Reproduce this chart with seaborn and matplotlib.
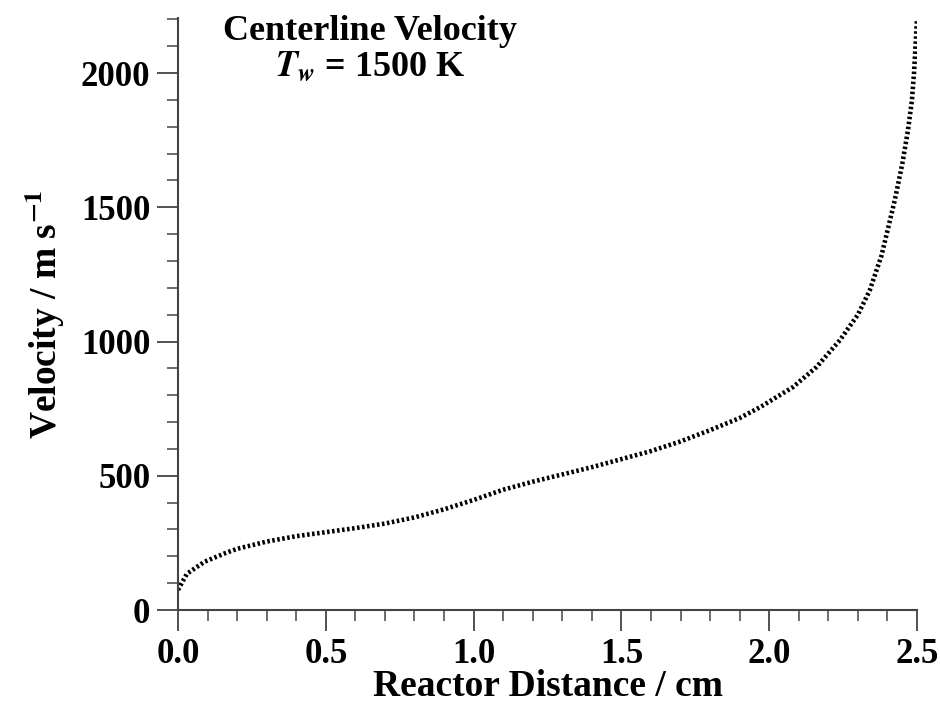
import numpy as np
import pandas as pd
import matplotlib
matplotlib.use("Agg")
import matplotlib.pyplot as plt
from matplotlib.ticker import MultipleLocator
import seaborn as sns

distance_cm = [0.0, 0.03, 0.09, 0.16, 0.2, 0.3, 0.4, 0.5, 0.6, 0.7, 0.8, 0.9, 1.0,
               1.1, 1.2, 1.3, 1.4, 1.5, 1.6, 1.7, 1.8, 1.9, 1.97, 2.08, 2.16,
               2.24, 2.30, 2.34, 2.38, 2.425, 2.45, 2.47, 2.483, 2.49, 2.5]
velocity = [75, 135, 180, 212, 228, 255, 275, 290, 305, 322, 345, 375, 410,
            448, 478, 505, 532, 562, 592, 628, 670, 715, 756, 830, 905,
            1006, 1100, 1190, 1320, 1527, 1660, 1790, 1900, 2000, 2200]

df = pd.DataFrame({"x": distance_cm, "v": velocity})

sns.set_style("ticks")
plt.rcParams['font.family'] = ['Liberation Serif', 'DejaVu Serif']
plt.rcParams['mathtext.fontset'] = 'stix'
plt.rcParams['font.weight'] = 'bold'

fig = plt.figure(figsize=(9.4, 7.04), dpi=100)
ax = fig.add_axes([0.1894, 0.1335, 0.7861, 0.8409])

sns.lineplot(data=df, x="x", y="v", ax=ax, color="black", linewidth=3.3,
             linestyle=(0, (0.55, 0.55)), estimator=None, sort=False)

ax.set_xlim(0, 2.5)
ax.set_ylim(0, 2205)
ax.xaxis.set_major_locator(MultipleLocator(0.5))
ax.xaxis.set_minor_locator(MultipleLocator(0.1))
ax.yaxis.set_major_locator(MultipleLocator(500))
ax.yaxis.set_minor_locator(MultipleLocator(100))
ax.xaxis.set_major_formatter(matplotlib.ticker.FormatStrFormatter('%.1f'))

for s in ['top', 'right']:
    ax.spines[s].set_visible(False)
for s in ['left', 'bottom']:
    ax.spines[s].set_color('#444444')
    ax.spines[s].set_linewidth(1.5)

ax.tick_params(which='major', direction='out', length=15, width=1.3, color='#444444',
               labelsize=25, pad=5, labelcolor='black')
ax.tick_params(which='minor', direction='out', length=8, width=1.1, color='#444444')
for lab in ax.get_xticklabels() + ax.get_yticklabels():
    lab.set_fontweight('bold')

ax.set_xlabel("Reactor Distance / cm", fontsize=27, fontweight='bold', labelpad=-1.5,
              color='black')
ax.set_ylabel(r"Velocity / m s$^{\mathbf{-1}}$", fontsize=27, fontweight='bold', labelpad=10,
              color='black')

ax.text(0.26, 1.005, "Centerline Velocity", transform=ax.transAxes, ha='center', va='top',
        fontsize=26, fontweight='bold', color='black')
ax.text(0.26, 0.945, r"$T_w$ = 1500 K", transform=ax.transAxes, ha='center', va='top',
        fontsize=26, fontweight='bold', color='black')

fig.savefig("out.png", dpi=100)
